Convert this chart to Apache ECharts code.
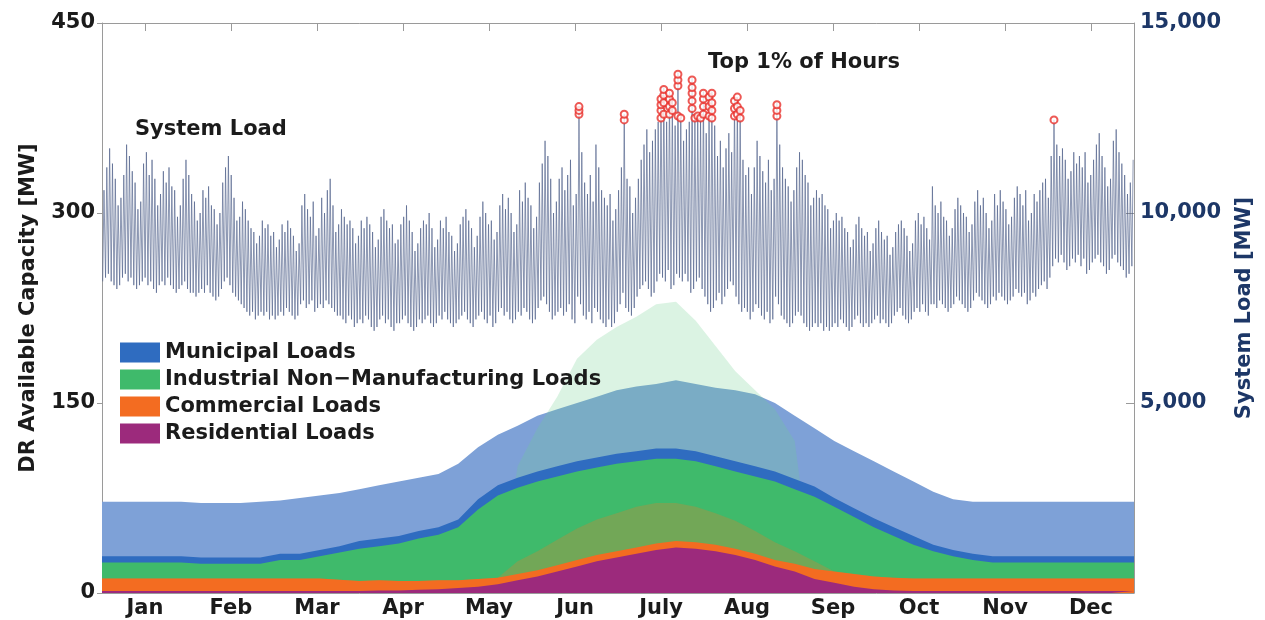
<!DOCTYPE html>
<html><head><meta charset="utf-8">
<script src="https://cdn.jsdelivr.net/npm/echarts@6/dist/echarts.min.js"></script>
<style>html,body{margin:0;padding:0;background:#fff}#c{width:1265px;height:620px}</style>
</head><body><div id="c"></div>
<script>
// ---------- DATA ----------
const months = ['Jan','Feb','Mar','Apr','May','Jun','July','Aug','Sep','Oct','Nov','Dec'];
const leftTicks = [0,150,300,450];           // DR capacity axis [MW]
const rightTicks = [5000,10000,15000];        // system load axis [MW]

// daily system-load peak (thousand MW), one value per day
const loadPeak = [
10.6,11.2,11.7,11.3,10.9,10.2,10.4, 11.0,11.8,11.5,11.1,10.8,10.1,10.3, 11.3,11.6,11.0,11.4,10.9,10.2,10.5,
11.1,10.8,11.2,10.7,10.6,9.9,10.2, 10.9,11.4,11.0,10.5,10.3,9.8,10.0, 10.6,10.4,10.7,10.2,10.1,9.7,10.0,
10.8,11.2,11.5,11.0,10.4,9.8,9.9, 10.3,10.1,9.8,9.6,9.5,9.2,9.4, 9.8,9.6,9.7,9.4,9.5,9.1,9.3,
9.7,9.5,9.8,9.6,9.4,9.0,9.2, 10.2,10.5,10.1,9.9,10.3,9.4,9.6, 10.4,10.0,10.6,10.9,10.2,9.5,9.7,
10.1,9.9,9.7,9.8,9.6,9.2,9.4, 9.8,9.6,9.9,9.7,9.5,9.1,9.3, 9.9,10.1,9.8,9.6,9.7,9.2,9.3,
9.7,9.9,10.2,9.8,9.5,9.0,9.2, 9.6,9.8,9.7,10.0,9.6,9.1,9.3, 9.8,9.6,9.9,9.5,9.4,9.0,9.2,
9.7,9.9,10.1,9.8,9.6,9.1,9.4, 9.9,10.3,10.0,9.7,9.8,9.3,9.5, 10.2,10.5,10.1,10.4,10.0,9.5,9.7,
10.6,10.3,10.8,10.4,10.2,9.6,9.9, 10.8,11.3,11.9,11.5,10.9,10.0,10.3, 10.9,11.2,10.6,11.0,11.4,10.2,10.5,
12.8,11.6,10.8,10.5,11.0,10.3,11.8, 11.2,10.6,10.4,10.2,10.5,9.8,10.1, 10.6,11.2,12.6,10.9,10.7,10.0,10.4,
10.9,11.4,11.8,12.2,11.6,11.9,12.2, 12.4,13.0,13.3,12.4,13.2,13.0,12.3, 13.7,12.6,11.9,12.2,12.4,13.55,12.5,
12.6,12.5,13.2,12.1,13.1,13.2,12.3, 11.5,11.9,11.2,11.7,12.1,11.6,13.0, 13.05,12.8,11.4,11.0,11.2,10.5,11.2,
11.9,11.5,11.1,10.8,11.4,10.6,10.9, 12.9,11.8,11.2,10.9,10.7,10.3,10.6, 11.2,11.6,11.4,11.0,10.8,10.2,10.4,
10.6,10.4,10.5,10.2,10.1,9.6,9.8, 10.0,9.8,9.9,9.6,9.5,9.1,9.3, 9.7,9.9,9.6,9.4,9.5,9.0,9.2,
9.6,9.8,9.5,9.3,9.4,8.9,9.1, 9.5,9.7,9.8,9.6,9.4,9.0,9.2, 9.8,10.0,9.7,9.9,9.6,9.3,10.7,
10.2,10.0,10.3,9.9,9.8,9.4,9.6, 10.1,10.4,10.2,10.0,9.9,9.5,9.7, 10.3,10.6,10.2,10.4,10.0,9.6,9.8,
10.5,10.2,10.6,10.3,10.1,9.7,9.9, 10.4,10.7,10.5,10.2,10.6,9.8,10.0, 10.5,10.3,10.6,10.8,10.9,10.4,11.5,
12.45,11.8,11.5,11.7,11.4,10.9,11.1, 11.6,11.3,11.5,11.2,11.6,10.8,11.0, 11.4,11.8,12.1,11.5,11.2,10.7,10.9,
11.9,12.2,11.6,11.3,11.0,10.5,10.8, 11.4
];
// daily system-load minimum (thousand MW)
const loadLow = [
8.2,8.3,8.4,8.2,8.1,8.0,8.1, 8.3,8.4,8.2,8.3,8.1,8.0,8.1, 8.2,8.3,8.1,8.2,8.0,7.9,8.1,
8.2,8.1,8.3,8.1,8.0,7.9,8.0, 8.1,8.2,8.0,7.9,7.9,7.8,7.9, 8.0,7.9,8.1,7.9,7.8,7.7,7.8,
8.0,8.2,8.3,8.1,7.9,7.8,7.7, 7.6,7.5,7.4,7.3,7.4,7.2,7.3, 7.4,7.3,7.4,7.2,7.3,7.2,7.3,
7.4,7.3,7.5,7.4,7.3,7.2,7.3, 7.6,7.7,7.5,7.6,7.7,7.4,7.5, 7.6,7.5,7.7,7.6,7.5,7.4,7.3,
7.3,7.2,7.1,7.3,7.2,7.0,7.1, 7.2,7.1,7.3,7.2,7.0,6.9,7.0, 7.2,7.3,7.1,7.2,7.0,6.9,7.1,
7.1,7.2,7.3,7.1,7.0,6.9,7.0, 7.2,7.1,7.2,7.3,7.1,7.0,7.1, 7.3,7.2,7.4,7.2,7.1,7.0,7.1,
7.2,7.3,7.4,7.2,7.1,7.0,7.2, 7.3,7.4,7.2,7.1,7.3,7.0,7.1, 7.4,7.5,7.3,7.4,7.2,7.1,7.2,
7.4,7.3,7.5,7.4,7.2,7.1,7.2, 7.5,7.7,7.8,7.6,7.4,7.2,7.3, 7.4,7.5,7.3,7.4,7.6,7.2,7.1,
7.8,7.6,7.3,7.2,7.4,7.1,7.5, 7.4,7.2,7.1,7.0,7.2,7.0,7.1, 7.4,7.6,7.9,7.5,7.4,7.3,7.5,
7.8,8.0,8.1,8.2,8.0,7.8,7.9, 8.2,8.4,8.3,8.2,8.5,8.0,8.1, 8.4,8.3,8.2,8.4,8.2,7.9,8.0,
8.2,8.3,8.0,7.8,7.6,7.4,7.5, 7.7,7.9,7.6,7.8,8.0,8.2,8.1, 7.8,7.6,7.4,7.5,7.4,7.2,7.4,
7.6,7.5,7.3,7.2,7.4,7.1,7.2, 7.8,7.6,7.3,7.2,7.1,7.0,7.1, 7.3,7.4,7.3,7.1,7.0,6.9,7.0,
7.1,7.0,7.1,6.9,7.0,6.9,7.0, 7.1,7.0,7.2,7.1,7.0,6.9,7.0, 7.2,7.3,7.1,7.0,7.1,7.0,7.1,
7.2,7.3,7.1,7.2,7.1,7.0,7.1, 7.3,7.4,7.5,7.3,7.2,7.1,7.2, 7.4,7.5,7.4,7.6,7.4,7.3,7.6,
7.6,7.5,7.7,7.6,7.5,7.4,7.5, 7.6,7.8,7.7,7.6,7.5,7.4,7.5, 7.7,7.9,7.8,7.7,7.6,7.5,7.6,
7.8,7.7,7.9,7.8,7.7,7.6,7.7, 7.8,8.0,7.9,7.8,7.9,7.6,7.7, 7.9,7.8,8.0,8.1,8.2,8.0,8.3,
8.6,8.8,8.7,8.9,8.7,8.5,8.6, 8.8,8.7,8.9,8.6,8.8,8.4,8.5, 8.7,8.8,8.9,8.7,8.6,8.4,8.5,
8.8,8.9,8.7,8.6,8.5,8.3,8.4, 8.6
];
// top 1% hours: [day of year, load in thousand MW]
const top1Hours = [
[168.7,12.6],[168.7,12.7],[168.7,12.8],[184.7,12.45],[184.7,12.6],
[197.7,12.5],[197.7,12.7],[197.7,12.85],[197.7,13.0],
[198.7,12.6],[198.7,12.9],[198.7,13.1],[198.7,13.25],
[200.7,12.6],[200.7,12.8],[200.7,13.0],[200.7,13.15],[201.7,12.7],[201.7,12.9],
[203.7,12.55],[203.7,13.35],[203.7,13.5],[203.7,13.65],[204.7,12.5],
[208.7,12.75],[208.7,12.95],[208.7,13.15],[208.7,13.3],[208.7,13.5],
[209.7,12.5],[210.7,12.55],[211.7,12.5],
[212.7,12.6],[212.7,12.8],[212.7,13.0],[212.7,13.15],
[214.7,12.55],[214.7,12.8],[214.7,13.05],[215.7,12.5],[215.7,12.7],[215.7,12.9],[215.7,13.15],
[223.7,12.55],[223.7,12.75],[223.7,12.95],[224.7,12.6],[224.7,12.8],[224.7,13.05],
[225.7,12.5],[225.7,12.7],[238.7,12.55],[238.7,12.7],[238.7,12.85],[336.7,12.45]
];
// weekly DR available capacity (MW), sampled at these days of year
const drDay = [0,7,14,21,28,35,42,49,56,63,70,77,84,91,98,105,112,119,126,133,140,147,154,161,168,175,182,189,196,203,210,217,224,231,238,245,252,259,266,273,280,287,294,301,308,315,322,329,336,343,350,357,365];
const residential = [1.5,1.5,1.5,1.5,1.5,1.5,1.5,1.5,1.5,1.5,1.5,1.5,1.5,1.5,2,2,2.5,3,4,5,7,10,13,17,21,25,28,31,34,36,35,33,30,26,21,17,11,8,5,3,2,1.5,1.5,1.5,1.5,1.5,1.5,1.5,1.5,1.5,1.5,1.5,1.5];
const commercial = [10,10,10,10,10,10,10,10,10,10,10,10,9,8,8,7.5,7,7,6,6,5,5,5,5,5,5,5,5,5,5,5,5,5,5,5,6,8,9,10,10,10,10,10,10,10,10,10,10,10,10,10,10,10];
const industrial = [12.5,12.5,12.5,12.5,12.5,11.5,11.5,11.5,11.5,14.5,14.5,17.5,21.5,25.5,27,29.5,33.5,36,42,55,65,68,70,70,70,69,69,68,67,65,64,62,61,61,62,59,57,51,45,39,33,26.5,21.5,17.5,14.5,12.5,12.5,12.5,12.5,12.5,12.5,12.5,12.5];
const municipal = [5,5,5,5,5,5,5,5,5,5,5,5,5,6,6,6,6,6,6,8,8,8,8,8,8,8,8,8,8,8,8,8,8,8,8,8,8,7,7,7,7,7,5,5,5,5,5,5,5,5,5,5,5];
// upper envelope of the daily swings (total DR, MW)
const municipalPeak = [72,72,72,72,72,71,71,71,72,73,75,77,79,82,85,88,91,94,102,115,125,132,140,145,150,155,160,163,165,168,165,162,160,157,150,140,130,120,112,104,96,88,80,74,72,72,72,72,72,72,72,72,72];
const industrialPeak = [0,0,0,0,0,0,0,0,0,0,0,0,0,0,0,0,0,0,0,0,0,100,130,155,185,200,210,218,228,230,215,195,175,160,145,120,0,0,0,0,0,0,0,0,0,0,0,0,0,0,0,0,0];
const commercialSwing = [0,0,0,0,0,0,0,0,0,0,0,0,0,0,0,0,0,0,0,0,0,10,15,20,25,28,30,32,32,30,28,25,22,18,14,10,6,0,0,0,0,0,0,0,0,0,0,0,0,0,0,0,0];

// ---------- BUILD ----------
const F = 'DejaVu Sans';
const INK = '#1b1b1b', NAVY = '#1d3767', FRAME = '#9a9a9a';
const loadData = [];
for (let d = 0; d < Math.min(loadPeak.length, loadLow.length); d++) {
  loadData.push([d + 0.25, loadLow[d]]);
  loadData.push([d + 0.7, loadPeak[d]]);
}
// cumulative tops of the stack (drawn back to front, each from 0 up)
const resTop = residential.slice();
const comTop = resTop.map((v, i) => v + commercial[i]);
const indTop = comTop.map((v, i) => v + industrial[i]);
const munTop = indTop.map((v, i) => v + municipal[i]);
const comSwingTop = comTop.map((v, i) => v + commercialSwing[i]);
const pair = arr => arr.map((v, i) => [drDay[i], v]);

function area(name, data, color, opacity, z) {
  return {
    name, type: 'line', data: pair(data), xAxisIndex: 0, yAxisIndex: 0,
    symbol: 'none', smooth: false, silent: true, z: z || 2,
    lineStyle: { width: 0 }, itemStyle: { color },
    areaStyle: { color, opacity: opacity == null ? 1 : opacity, origin: 'start' }
  };
}

const chart = echarts.init(document.getElementById('c'), null, { renderer: 'canvas' });
chart.setOption({
  animation: false,
  backgroundColor: '#fff',
  grid: { left: 102, right: 131, top: 23, bottom: 27, containLabel: false },
  legend: {
    left: 120, top: 342, orient: 'vertical', icon: 'rect',
    itemWidth: 40, itemHeight: 20, itemGap: 6, padding: 0,
    textStyle: { fontFamily: F, fontSize: 21, fontWeight: 'bold', color: INK },
    data: ['Municipal Loads', 'Industrial Non\u2212Manufacturing Loads', 'Commercial Loads', 'Residential Loads']
  },
  xAxis: [
    { type: 'value', min: 0, max: 365, show: false },
    { type: 'category', data: months, position: 'bottom', boundaryGap: true,
      axisLine: { show: true, lineStyle: { color: FRAME } }, axisTick: { show: false },
      axisLabel: { fontFamily: F, fontSize: 21, fontWeight: 'bold', color: INK, margin: 5 } },
    { type: 'category', data: months, position: 'top', boundaryGap: true,
      axisLine: { show: true, lineStyle: { color: FRAME } },
      axisTick: { show: true, inside: true, alignWithLabel: true, length: 8, lineStyle: { color: FRAME } },
      axisLabel: { show: false } }
  ],
  yAxis: [
    { type: 'value', min: 0, max: 450, interval: 150, position: 'left',
      axisLine: { show: true, lineStyle: { color: FRAME } },
      axisTick: { show: true, inside: false, length: 5, lineStyle: { color: FRAME } },
      splitLine: { show: false },
      axisLabel: { fontFamily: F, fontSize: 21, fontWeight: 'bold', color: INK, margin: 7,
        formatter: v => leftTicks.includes(v) ? String(v) : '' },
      name: 'DR Available Capacity [MW]', nameLocation: 'middle', nameRotate: 90, nameGap: 63,
      nameTextStyle: { fontFamily: F, fontSize: 21, fontWeight: 'bold', color: INK } },
    { type: 'value', min: 0, max: 15, interval: 5, position: 'right',
      axisLine: { show: true, lineStyle: { color: FRAME } },
      axisTick: { show: true, inside: true, length: 8, lineStyle: { color: FRAME } },
      splitLine: { show: false },
      axisLabel: { fontFamily: F, fontSize: 21, fontWeight: 'bold', color: NAVY, margin: 6, showMinLabel: false,
        formatter: v => { const m = Math.round(v * 1000); return rightTicks.includes(m) ? m.toLocaleString('en-US') : ''; } },
      name: 'System Load [MW]', nameLocation: 'middle', nameRotate: 90, nameGap: 100,
      nameTextStyle: { fontFamily: F, fontSize: 21, fontWeight: 'bold', color: NAVY } }
  ],
  series: [
    area('Municipal swing', municipalPeak, '#7ea1d7', 1, 1),
    area('Industrial peak', industrialPeak, '#6fcf8f', 0.25, 2),
    area('Municipal Loads', munTop, '#2f6cc0', 1, 3),
    area('Industrial Non\u2212Manufacturing Loads', indTop, '#3fba6b', 1, 3),
    area('Commercial swing', comSwingTop, '#e9792c', 0.3, 3),
    area('Commercial Loads', comTop, '#f36c21', 1, 3),
    area('Residential Loads', resTop, '#9c2a7c', 1, 3),
    { name: 'System Load', type: 'line', data: loadData, xAxisIndex: 0, yAxisIndex: 1,
      symbol: 'none', sampling: null, silent: true, z: 4,
      lineStyle: { width: 0.75, color: '#4c5d88', opacity: 0.85 } },
    { name: 'Top 1% of Hours', type: 'scatter', data: top1Hours, xAxisIndex: 0, yAxisIndex: 1,
      symbol: 'emptyCircle', symbolSize: 7, silent: true, z: 5,
      itemStyle: { color: '#e8302a', borderColor: '#e8302a', borderWidth: 1.5 } }
  ],
  graphic: [
    { type: 'text', left: 135, top: 119, style: { text: 'System Load', fontFamily: F, fontSize: 21, fontWeight: 'bold', fill: INK } },
    { type: 'text', left: 708, top: 52, style: { text: 'Top 1% of Hours', fontFamily: F, fontSize: 21, fontWeight: 'bold', fill: INK } }
  ]
});
</script>
</body></html>
